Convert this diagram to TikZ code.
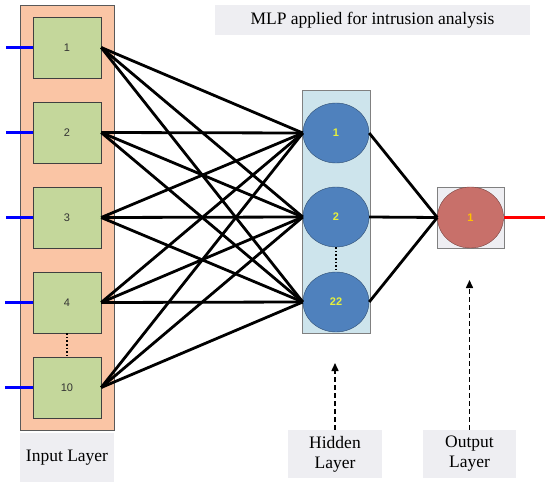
\documentclass[tikz,border=0pt]{standalone}
\usepackage{fontspec}
\setmainfont{Liberation Serif}
\setsansfont{Liberation Sans}
\usetikzlibrary{shapes.geometric, arrows.meta}

\definecolor{layerorange}{RGB}{250,197,165}
\definecolor{boxgreen}{RGB}{196,215,155}
\definecolor{hiddenbg}{RGB}{205,228,236}
\definecolor{hiddenblue}{RGB}{79,129,189}
\definecolor{outred}{RGB}{200,112,106}
\definecolor{labelgray}{RGB}{238,238,242}
\definecolor{numyellow}{RGB}{230,240,60}
\definecolor{numorange}{RGB}{255,192,0}

\begin{document}
\begin{tikzpicture}[x=1pt,y=-1pt]
\useasboundingbox (0,0) rectangle (548,492);

% layer backgrounds
\begin{scope}[every node/.style={inner sep=0}]
    \node [draw=gray!70!black, fill=layerorange, minimum width=94pt, minimum height=425pt] (inbg)  at (67,217.5)  {};
    \node [draw=gray, fill=hiddenbg, minimum width=68pt, minimum height=243pt]             (hidbg) at (336,211.5) {};
    \node [draw=gray, fill=labelgray, minimum width=67pt, minimum height=61pt]            (outbg) at (470.5,217.5) {};
\end{scope}

% labels
\begin{scope}[every node/.style={fill=labelgray, inner sep=0, align=center,
            font=\rmfamily\fontsize{17.5}{20}\selectfont}]
    \node [minimum width=315pt, minimum height=30pt] (title)  at (372.5,20)  {MLP applied for intrusion analysis};
    \node [minimum width=94pt, minimum height=49pt]  (inlbl)  at (67,457.5)  {Input Layer};
    \node [minimum width=94pt, minimum height=48pt]  (hidlbl) at (335,454)   {Hidden\\Layer};
    \node [minimum width=93pt, minimum height=48pt]  (outlbl) at (469.5,454) {Output\\Layer};
\end{scope}

% input layer
\begin{scope}[every node/.style={rectangle, draw=black!75, thin, fill=boxgreen,
            minimum width=68pt, minimum height=61pt, inner sep=0,
            font=\sffamily\fontsize{11}{13}\selectfont, text=black!80}]
    \node (I1)  at (67,47.5)  {1};
    \node (I2)  at (67,132.5) {2};
    \node (I3)  at (67,217.5) {3};
    \node (I4)  at (67,302.5) {4};
    \node (I10) at (67,387.5) {10};
\end{scope}

% hidden layer
\begin{scope}[every node/.style={ellipse, draw=hiddenblue!60!black, thin, fill=hiddenblue,
            minimum width=66pt, minimum height=60pt, inner sep=0,
            font=\sffamily\bfseries\fontsize{11}{13}\selectfont, text=numyellow}]
    \node (H1)  at (336,133) {1};
    \node (H2)  at (336,217) {2};
    \node (H22) at (336,302) {22};
\end{scope}

% output layer
\node [ellipse, draw=outred!60!black, thin, fill=outred, minimum width=66pt, minimum height=61pt,
       inner sep=0, font=\sffamily\bfseries\fontsize{11}{13}\selectfont, text=numorange]
       (O1) at (470.5,217.5) {1};

\coordinate (x1)  at (6,47.5);
\coordinate (x2)  at (6,132.5);
\coordinate (x3)  at (6,217.5);
\coordinate (x4)  at (5,302.5);
\coordinate (x10) at (5,387.5);
\coordinate (y1)  at (545,217.5);
\coordinate (hidtip) at (335,363);
\coordinate (outtip) at (469.5,280);

\begin{scope}[every edge/.style={draw=black, line width=2.8pt}]
    \path (I1.east)  edge (H1.west) edge (H2.west) edge (H22.west);
    \path (I2.east)  edge (H1.west) edge (H2.west) edge (H22.west);
    \path (I3.east)  edge (H1.west) edge (H2.west) edge (H22.west);
    \path (I4.east)  edge (H1.west) edge (H2.west) edge (H22.west);
    \path (I10.east) edge (H1.west) edge (H2.west) edge (H22.west);
    \path (O1.west)  edge (H1.east) edge (H2.east) edge (H22.east);
\end{scope}

\begin{scope}[line width=3.2pt]
    \draw [blue] (x1) -- (I1);
    \draw [blue] (x2) -- (I2);
    \draw [blue] (x3) -- (I3);
    \draw [blue] (x4) -- (I4);
    \draw [blue] (x10) -- (I10);
    \draw [red] (O1) -- (y1);
\end{scope}

\draw [dotted, line width=1.6pt] (I4) -- (I10);
\draw [dotted, line width=1.6pt] (H2) -- (H22);

\begin{scope}[>={Triangle[length=8pt,width=7pt]}, line width=1.5pt, dash pattern=on 5pt off 3pt]
    \draw [->] (hidlbl.north) -- (hidtip);
    \draw [->] (outlbl.north) -- (outtip);
\end{scope}
\end{tikzpicture}
\end{document}
